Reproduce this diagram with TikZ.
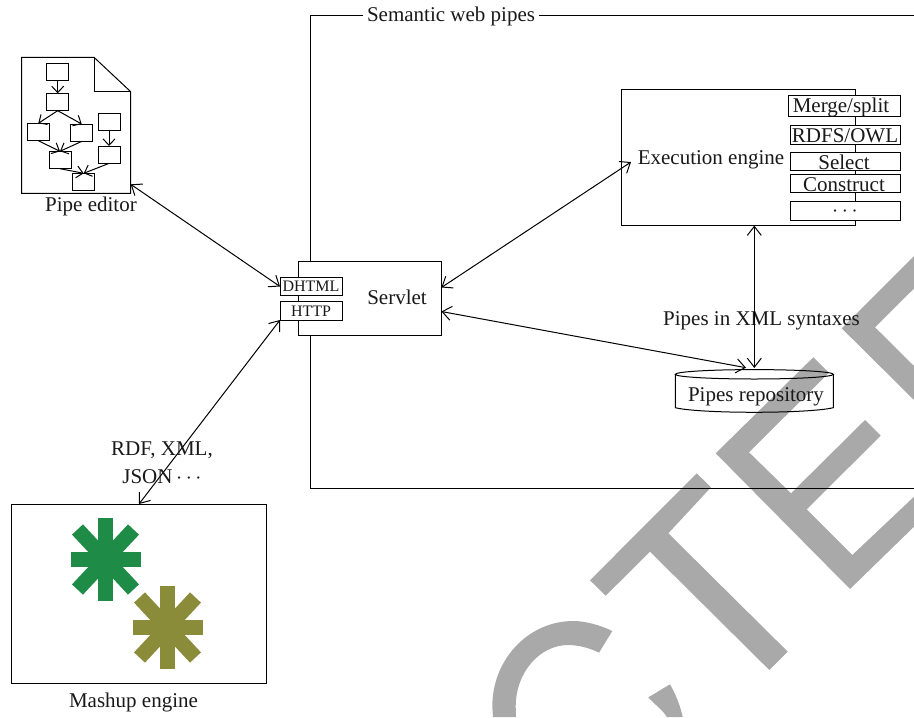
\documentclass[tikz,border=0pt]{standalone}
\usepackage{fontspec}
\setmainfont{Liberation Serif}
\usetikzlibrary{arrows.meta}
\definecolor{wm}{HTML}{A9A9A9}
\definecolor{stargreen}{HTML}{1E8C46}
\definecolor{starolive}{HTML}{8A8C3A}
\tikzset{
  x=0.5pt,y=-0.5pt,
  line/.style={line width=0.5pt,black},
  box/.style={draw=black,line width=0.5pt,fill=white,inner sep=0pt,outer sep=0pt},
  mini/.style={draw=black,line width=0.5pt,inner sep=0pt,outer sep=0pt,minimum width=11pt,minimum height=8.7pt},
  txt/.style={font=\fontsize{10.5}{14}\selectfont,inner sep=0pt,outer sep=0pt,align=center,text=black!90},
  small/.style={font=\fontsize{8}{10}\selectfont},
  both/.style={line width=0.5pt,{Straight Barb[length=4.5pt,width=7pt]}-{Straight Barb[length=4.5pt,width=7pt]}},
  tiny/.style={line width=0.5pt,-{Straight Barb[length=3.2pt,width=6pt]}},
  arm/.style={line width=7.5pt}
}
\begin{document}
\begin{tikzpicture}
\useasboundingbox (0,0) rectangle (914,717);
% watermark
\fill[wm] (696.7,473.3) -- (711,487.3) -- (668.3,533.3) -- (787.7,651.6) -- (769.3,670) -- (650,551.7) -- (605.7,595.7) -- (590,580.3) -- cycle;
\fill[wm] (715.7,453.3) -- (813.3,357.3) -- (829,372.7) -- (749,452.3) -- (791,493.3) -- (865,420) -- (880.7,435.7) -- (806.7,509.3) -- (852.3,555) -- (914,496.7) -- (914,526.7) -- (850,589) -- cycle;
\fill[wm] (914,256) -- (841.7,328.3) -- (914,400) -- (914,366) -- (875,327.3) -- (914,288.5) -- cycle;
\fill[wm] (612.3,631) .. controls (600,625) and (585,621) .. (573.3,621) .. controls (528,621) and (492,660) .. (492.3,706.7) -- (493,717) -- (516,717) -- (515.7,706.7) .. controls (515.7,672) and (540,645) .. (568.3,645) .. controls (578,645) and (590,648) .. (599,652.7) -- cycle;
\fill[wm] (648.3,697.3) -- (670,684.3) .. controls (676,695) and (680,705) .. (682.7,717) -- (666.7,717) .. controls (663,710) and (655,705) .. (648.3,697.3) -- cycle;
% frame
\coordinate (ftr) at (914,16);
\coordinate (ftl) at (310,16);
\coordinate (fbl) at (310,488);
\coordinate (fbr) at (914,488);
\draw[line] (ftr) -- (ftl) -- (fbl) -- (fbr);
\node[txt,fill=white,inner xsep=2pt,inner ysep=1pt] (semantic) at (451,16) {Semantic web pipes};
% servlet
\node[box,minimum width=71.4pt,minimum height=37.4pt] (servlet) at (369.7,298.4) {};
\node[txt] (servletlabel) at (397,297) {Servlet};
\node[box,minimum width=31pt,minimum height=9.2pt] (dhtml) at (311,286.5) {};
\node[txt,small] (dhtmllabel) at (311,286.5) {DHTML};
\node[box,minimum width=31pt,minimum height=9.3pt] (http) at (311,310.7) {};
\node[txt,small] (httplabel) at (311,311.5) {HTTP};
% execution engine
\node[box,minimum width=117.2pt,minimum height=67.8pt] (exec) at (738.2,157.8) {};
\node[txt] (execlabel) at (711,160) {Execution engine};
\node[box,minimum width=55.9pt,minimum height=10.5pt] (merge) at (844.2,106.2) {};
\node[txt] at (841,107) {Merge/split};
\node[box,minimum width=55pt,minimum height=9.3pt] (rdfs) at (845,135) {};
\node[txt] at (845,135.5) {RDFS/OWL};
\node[box,minimum width=55pt,minimum height=9pt] (select) at (845,161.7) {};
\node[txt] at (844,162.5) {Select};
\node[box,minimum width=55pt,minimum height=9.3pt] (construct) at (845,183.3) {};
\node[txt] at (844,185) {Construct};
\node[box,minimum width=55pt,minimum height=9.3pt] (more) at (845,210.7) {};
\node[txt] at (845,212) {$\cdots$};
% repository
\node[minimum width=79pt,minimum height=23pt,inner sep=0pt,outer sep=0pt] (repo) at (754.3,391) {};
\draw[line] (675.3,374.3) -- (675.3,407.7) .. controls (700,413.8) and (808,413.8) .. (833.3,407.7) -- (833.3,374.3);
\draw[line] (754.3,374.3) ellipse [x radius=79,y radius=4.7];
\node[txt] (repolabel) at (756,397) {Pipes repository};
\node[txt] (xmllabel) at (761.5,320.5) {Pipes in XML syntaxes};
% mashup
\node[draw=black,line width=0.5pt,minimum width=127.75pt,minimum height=89.75pt,inner sep=0pt,outer sep=0pt] (mashup) at (138.75,593.75) {};
\node[txt] (mashuplabel) at (133.5,702) {Mashup engine};
\foreach \c/\cx/\cy in {stargreen/105.5/559.5,starolive/167.5/627.5}{
  \begin{scope}[shift={(\cx,\cy)},color=\c]
    \fill (-7.5,-41.5) rectangle (7.5,41.5);
    \fill (-35,-7.5) rectangle (35,7.5);
    \draw[arm] (-28,-30) -- (28,30);
    \draw[arm] (28,-30) -- (-28,30);
  \end{scope}
}
% pipe editor document
\draw[line] (21.7,57.3) -- (94,57.3) -- (130.7,91.7) -- (130.7,193.3) -- (21.7,193.3) -- cycle;
\draw[line] (94,57.3) -- (94,91.7) -- (130.7,91.7);
\node[txt] (editorlabel) at (91,206) {Pipe editor};
\coordinate (doccorner) at (130.7,184.3);
\node[mini] (a) at (57.7,72) {};
\node[mini] (b) at (57.7,102) {};
\node[mini] (c) at (38.3,132) {};
\node[mini] (d) at (81.7,132.7) {};
\node[mini] (e) at (60,160) {};
\node[mini] (f) at (109,122) {};
\node[mini] (g) at (109,154.7) {};
\node[mini] (h) at (83.7,182) {};
\draw[tiny] (a) -- (b);
\draw[tiny] (b.south) -- (c.north);
\draw[tiny] (b.south) -- (d.north);
\draw[tiny] (c.south) -- (e.north);
\draw[tiny] (d.south) -- (e.north);
\draw[tiny] (f) -- (g);
\draw[tiny] (e.south) -- (h.north);
\draw[tiny] (g.south) -- (h.north);
% connectors
\coordinate (servletA) at (441.4,287.5);
\coordinate (servletB) at (441.4,311.5);
\coordinate (execin) at (631,162);
\coordinate (repoin) at (746,367.7);
\coordinate (mashupin) at (139,504);
\draw[both] (doccorner) -- (dhtml.west);
\draw[both] (http.south west) -- (mashupin);
\draw[both] (servletA) -- (execin);
\draw[both] (servletB) -- (repoin);
\draw[both] (repo.north |- exec.south) -- (repo.north);
\node[txt] (formats) at (162,463) {RDF, XML,\\JSON\,$\cdots$};
\end{tikzpicture}
\end{document}
